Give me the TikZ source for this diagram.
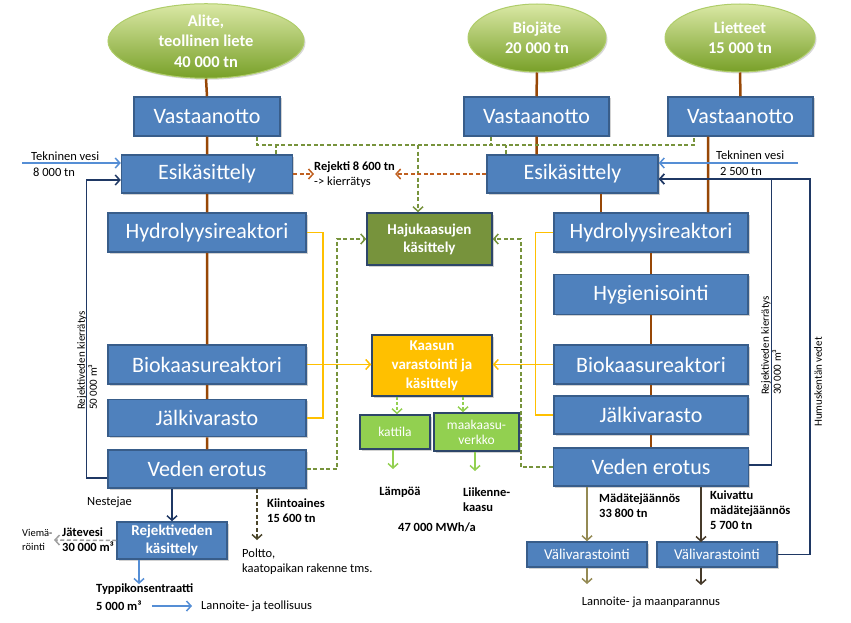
\documentclass[tikz,border=0pt]{standalone}
\usepackage{fontspec}
\setmainfont{Carlito}
\usetikzlibrary{arrows.meta,shapes.geometric,shadows}
\definecolor{boxblue}{RGB}{79,129,189}
\definecolor{boxborder}{RGB}{56,93,138}
\definecolor{darkborder}{RGB}{45,70,105}
\definecolor{brownline}{RGB}{151,71,6}
\definecolor{olivegreen}{RGB}{119,147,60}
\definecolor{goldline}{RGB}{255,192,0}
\definecolor{navyline}{RGB}{31,56,100}
\definecolor{lightblue}{RGB}{85,142,213}
\definecolor{lightgreen}{RGB}{146,208,80}
\definecolor{rejbrown}{RGB}{192,96,32}
\definecolor{khaki}{RGB}{148,138,84}
\definecolor{darkbrown}{RGB}{70,58,42}
\definecolor{kiintcol}{RGB}{74,69,42}
\definecolor{greyline}{RGB}{160,160,160}
\definecolor{ellTop}{RGB}{218,232,165}
\definecolor{ellMid}{RGB}{165,198,85}
\definecolor{ellBot}{RGB}{120,160,40}
\definecolor{ellBorder}{RGB}{175,205,105}
\begin{document}
\begin{tikzpicture}[x=1pt,y=-1pt,
  bbox/.style 2 args={draw=boxborder, line width=1.5pt, fill=boxblue, text=white,
    inner sep=0pt, minimum width=#1pt, minimum height=#2pt, align=center,
    font=\fontsize{22}{26}\selectfont,
    drop shadow={shadow xshift=1.5pt, shadow yshift=-1.5pt, opacity=0.35}},
  ell/.style 2 args={ellipse, draw=ellBorder, line width=1pt, top color=ellTop,
    middle color=ellMid, bottom color=ellBot, text=white, inner sep=0pt,
    minimum width=#1pt, minimum height=#2pt, align=center,
    font=\fontsize{16.5}{20.5}\selectfont\bfseries,
    drop shadow={shadow xshift=1.5pt, shadow yshift=-1.5pt, opacity=0.3}},
  lab/.style={inner sep=0pt, align=left, font=\fontsize{12.5}{15}\selectfont},
  blab/.style={lab, font=\fontsize{12.5}{15}\selectfont\bfseries},
  rlab/.style={inner sep=0pt, align=left, rotate=90, anchor=west,
    font=\fontsize{11}{12}\selectfont},
  arr/.style={-{Straight Barb[length=4.5pt,width=10pt]}},
  brn/.style={draw=brownline, line width=2.5pt},
  od/.style={draw=olivegreen, line width=1.5pt, dash pattern=on 4pt off 2.5pt},
  yl/.style={draw=goldline, line width=1.5pt},
  nv/.style={draw=navyline, line width=1.5pt},
  lb/.style={draw=lightblue, line width=1.5pt},
  lg/.style={draw=lightgreen, line width=1.5pt},
]
\fill[white] (0,0) rectangle (851,623);
\useasboundingbox (0,0) rectangle (851,623);

% ---------- source ellipses
\node[ell={196}{72}] (E1) at (206,41) {Alite,\\teollinen liete\\40 000 tn};
\node[ell={138}{68}] (E2) at (537,38) {Biojäte\\20 000 tn};
\node[ell={150}{68}] (E3) at (740,38) {Lietteet\\15 000 tn};

% ---------- left column
\node[bbox={146}{39}] (VA1) at (207,116.5) {Vastaanotto};
\node[bbox={171}{38}] (ES1) at (207,174) {Esikäsittely};
\node[bbox={198}{39}] (HY1) at (207,232.5) {Hydrolyysireaktori};
\node[bbox={198}{39}] (BK1) at (207,364.5) {Biokaasureaktori};
\node[bbox={198}{37}] (JV1) at (207,418) {Jälkivarasto};
\node[bbox={198}{38}] (VE1) at (207,469) {Veden erotus};

% ---------- right column
\node[bbox={145}{39}] (VA2) at (536.5,116.5) {Vastaanotto};
\node[bbox={145}{39}] (VA3) at (740.5,116.5) {Vastaanotto};
\node[bbox={171}{38}] (ES2) at (572.5,174) {Esikäsittely};
\node[bbox={194}{39}] (HY2) at (651,232.5) {Hydrolyysireaktori};
\node[bbox={194}{40}] (HG) at (651,294.5) {Hygienisointi};
\node[bbox={194}{39}] (BK2) at (651,364.5) {Biokaasureaktori};
\node[bbox={194}{38}] (JV2) at (651,415) {Jälkivarasto};
\node[bbox={195}{38}] (VE2) at (651,467) {Veden erotus};

% ---------- centre
\node[bbox={125}{52}, fill=olivegreen, draw=darkborder,
  font=\fontsize{15}{18}\selectfont\bfseries] (HK) at (429.5,239) {Hajukaasujen\\käsittely};
\node[bbox={120}{61}, fill=goldline, draw=darkborder,
  font=\fontsize{15}{19}\selectfont\bfseries] (KV) at (432,365.5) {Kaasun\\varastointi ja\\käsittely};
\node[bbox={70}{34}, fill=lightgreen, draw=darkborder,
  font=\fontsize{13.5}{15}\selectfont] (KA) at (395,432) {kattila};
\node[bbox={85}{38}, fill=lightgreen, draw=darkborder,
  font=\fontsize{13.5}{15}\selectfont] (MV) at (476.5,432) {maakaasu-\\verkko};

% ---------- bottom boxes
\node[bbox={110}{37}, font=\fontsize{15}{18}\selectfont\bfseries] (RK) at (172,540.5) {Rejektiveden\\käsittely};
\node[bbox={120}{25}, font=\fontsize{15}{18}\selectfont] (VV1) at (587,554.5) {Välivarastointi};
\node[bbox={120}{25}, font=\fontsize{15}{18}\selectfont] (VV2) at (717,554.5) {Välivarastointi};

% ---------- labels
\node[lab, anchor=west] (REJ) at (314,174.5) {\textbf{Rejekti 8 600 tn}\\-> kierrätys};
\node[lab, anchor=west] (TV1) at (31,156) {Tekninen vesi};
\node[lab, anchor=west] (TV1b) at (33,172) {8 000 tn};
\node[lab, anchor=west] (TV2) at (716,155) {Tekninen vesi};
\node[lab, anchor=west] (TV2b) at (720,171) {2 500 tn};
\node[lab, anchor=west] (NES) at (87,502) {Nestejae};
\node[blab, anchor=west] (KII) at (267,510.5) {Kiintoaines\\15 600 tn};
\node[lab, anchor=west] (POL) at (242,562) {Poltto,\\kaatopaikan rakenne tms.};
\node[blab, anchor=west] (JAT) at (62,540) {Jätevesi\\30 000 m³};
\node[lab, anchor=west, font=\fontsize{10.5}{14}\selectfont] (VIE) at (22,540) {Viemä-\\röinti};
\node[blab, anchor=west] (TYP) at (96,589) {Typpikonsentraatti};
\node[blab, anchor=west] (TYP2) at (96,606) {5 000 m³};
\node[lab, anchor=west] (LAN1) at (201,606) {Lannoite- ja teollisuus};
\node[blab] (LAM) at (400,492) {Lämpöä};
\node[blab, anchor=west] (LII) at (463,500) {Liikenne-\\kaasu};
\node[blab] (MWH) at (437,527) {47 000 MWh/a};
\node[blab, anchor=west] (MAD) at (599,505.5) {Mädätejäännös\\33 800 tn};
\node[blab, anchor=west] (KUI) at (710,510) {Kuivattu\\mädätejäännös\\5 700 tn};
\node[lab] (LAN2) at (651,602) {Lannoite- ja maanparannus};
\node[rlab] (RL1) at (87,410) {Rejektiveden kierrätys\\50 000 m³};
\node[rlab] (RL2) at (771,395) {Rejektiveden kierrätys\\30 000 m³};
\node[rlab] (HUM) at (818,427) {Humuskentän vedet};

% ---------- coordinates for free ends / bends
\coordinate (busL) at (257,145);
\coordinate (busR) at (694,145);
\coordinate (bx1) at (276,145);
\coordinate (bx2) at (491,145);
\coordinate (bx3) at (506,145);
\coordinate (bx4) at (418,145);
\coordinate (tvL) at (22,163);
\coordinate (tvR) at (798,163);
\coordinate (kaEnd) at (393,469);
\coordinate (mvEnd) at (475,471);
\coordinate (jvEnd) at (54,540);
\coordinate (tpEnd) at (139,584);
\coordinate (kiEnd) at (257,540);
\coordinate (kvx) at (701,542);
\coordinate (lv1) at (587,584);
\coordinate (lv2) at (701,585);

% ---------- brown spines
\draw[brn] (E1.south) -- (VA1.north) (VA1.south) -- (ES1.north)
  (ES1.south) -- (HY1.north) (HY1.south) -- (BK1.north)
  (BK1.south) -- (JV1.north) (JV1.south) -- (VE1.north);
\draw[brn] (E2.south) -- (VA2.north) (VA2.south) -- (VA2.south |- ES2.north);
\draw[brn] ([xshift=28.5pt]ES2.south) -- ([xshift=28.5pt]ES2.south |- HY2.north);
\draw[brn] (E3.south) -- (VA3.north)
  ([xshift=-32.5pt]VA3.south) -- ([xshift=-32.5pt]VA3.south |- HY2.north);
\draw[brn] (HY2.south) -- (HG.north) (HG.south) -- (BK2.north)
  (BK2.south) -- (JV2.north) (JV2.south) -- (VE2.north);

% ---------- odour gas collection (olive dashed)
\draw[od] (VA1.south -| busL) -- (busL) -- (busR) -- (VA3.south -| busR);
\draw[od] (ES1.north -| bx1) -- (bx1);
\draw[od] (VA2.south -| bx2) -- (bx2);
\draw[od] (ES2.north -| bx3) -- (bx3);
\draw[od, arr] (bx4) -- (HK.north -| bx4);
\draw[od, arr] (VE1.east) -- ++(30,0) |- (HK.west);
\draw[od, arr] (VE2.west) -- ++(-32,0) |- (HK.east);

% ---------- reject (brown dashed)
\draw[draw=rejbrown, line width=1.5pt, dash pattern=on 4pt off 2.5pt, arr] (ES1.east) -- (REJ.west |- ES1.east);
\draw[draw=rejbrown, line width=1.5pt, dash pattern=on 4pt off 2.5pt, arr] (ES2.west) -- (REJ.east |- ES2.west);

% ---------- biogas (gold)
\draw[yl] (HY1.east) -- ++(16,0) |- (JV1.east);
\draw[yl, arr] (BK1.east) -- (BK1.east -| KV.west);
\draw[yl] (HY2.west) -- ++(-18,0) |- (JV2.west);
\draw[yl, arr] (BK2.west) -- (BK2.west -| KV.east);

% ---------- gas use (light green)
\draw[lg, arr, dash pattern=on 3pt off 2pt] ([xshift=2pt]KA.north |- KV.south) -- ([xshift=2pt]KA.north);
\draw[lg, arr, dash pattern=on 3pt off 2pt] ([xshift=-13.5pt]MV.north |- KV.south) -- ([xshift=-13.5pt]MV.north);
\draw[lg, arr] (kaEnd |- KA.south) -- (kaEnd);
\draw[lg, arr] (mvEnd |- MV.south) -- (mvEnd);

% ---------- technical water
\draw[lb, arr] (tvL) -- (ES1.west |- tvL);
\draw[lb, arr] (tvR) -- (ES2.east |- tvR);

% ---------- reject water recirculation (navy)
\draw[nv, arr] ([yshift=-9pt]VE1.west) -- ++(-21,0) |- ([yshift=-6pt]ES1.west);
\draw[nv, arr] ([yshift=2pt]VE2.east) -- ++(22,0) |- ([yshift=-5pt]ES2.east);
\draw[nv, arr] (VV2.east) -- ++(32,0) |- ([yshift=-5pt]ES2.east);

% ---------- bottom left
\draw[nv, arr] (RK.north |- VE1.south) -- (RK.north);
\draw[draw=greyline, line width=1.5pt, dash pattern=on 4pt off 2.5pt, arr] (RK.west) -- (jvEnd);
\draw[lb, arr] (tpEnd |- RK.south) -- (tpEnd);
\draw[lb, arr, shorten <=10pt, shorten >=9pt] (TYP2.east) -- (LAN1.west);
\draw[draw=kiintcol, line width=1.5pt, dash pattern=on 4pt off 2.5pt, arr] (kiEnd |- VE1.south) -- (kiEnd);

% ---------- bottom right
\draw[draw=khaki, line width=1.5pt, arr] (VV1.north |- VE2.south) -- (VV1.north);
\draw[draw=darkbrown, line width=1.5pt, arr] (kvx |- VE2.south) -- (kvx);
\draw[draw=khaki, line width=1.5pt, arr] (VV1.south) -- (lv1);
\draw[draw=darkbrown, line width=1.5pt, arr] (lv2 |- VV2.south) -- (lv2);
\end{tikzpicture}
\end{document}
